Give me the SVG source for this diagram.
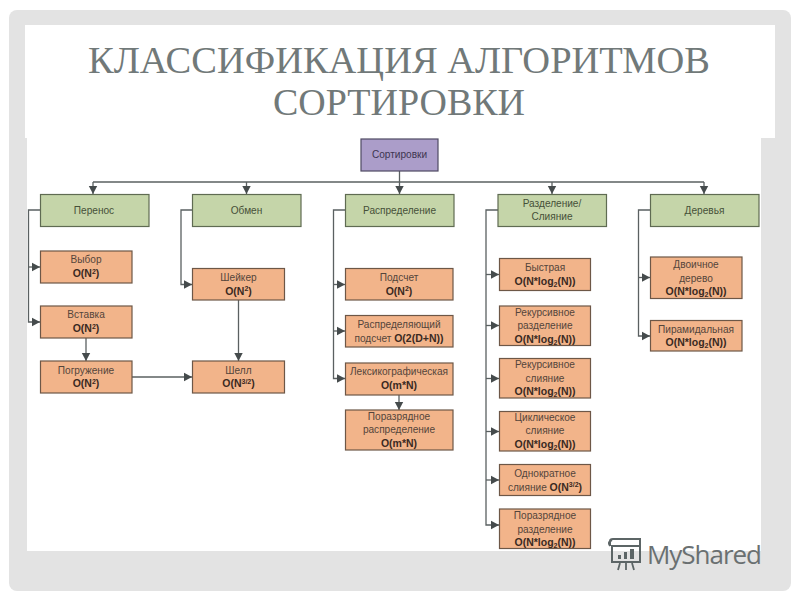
<svg xmlns="http://www.w3.org/2000/svg" width="800" height="600" viewBox="0 0 800 600">
<style>
.g{fill:#c5d5a9;stroke:#5f6b52;stroke-width:1.2}
.o{fill:#f2b48a;stroke:#6d5747;stroke-width:1.2}
.p{fill:#ab9dc9;stroke:#4f4a63;stroke-width:1.2}
.c{fill:none;stroke:#5a6061;stroke-width:1.3}
text{font-family:"Liberation Sans",Arial,sans-serif;font-size:10.100px;fill:#54453b;text-anchor:middle}
.b{font-weight:bold;font-size:10.500px;fill:#3a2a22}
.gt{fill:#465038}
.rt{fill:#3d3550}
.t{font-family:"Liberation Serif","Times New Roman",serif;font-size:38.500px;fill:#717979}
.s{font-size:7px}
</style>
<defs>
<marker id="a" markerUnits="userSpaceOnUse" markerWidth="9" markerHeight="10" refX="8" refY="5" orient="auto"><path d="M0 0.800L8 5L0 9.200Z" fill="#454b4c"/></marker>
</defs>
<rect width="800" height="600" fill="#fff"/>
<rect id="frame" x="9" y="10" width="782" height="581" rx="8" fill="#e3e3e3"/>
<rect x="27" y="138" width="734" height="413" fill="#fff"/>
<rect x="25" y="25" width="750" height="113" fill="#fff"/>
<g id="title">
<text class="t" x="399" y="72.500" textLength="622" lengthAdjust="spacingAndGlyphs">КЛАССИФИКАЦИЯ АЛГОРИТМОВ</text>
<text class="t" x="399" y="114.500" textLength="252" lengthAdjust="spacingAndGlyphs">СОРТИРОВКИ</text>
</g>
<g id="connectors">
<path class="c" d="M399.500 171V182"/>
<path class="c" d="M93 182H704"/>
<path class="c" d="M93 182V194" marker-end="url(#a)"/>
<path class="c" d="M246.500 182V194" marker-end="url(#a)"/>
<path class="c" d="M399.500 182V194" marker-end="url(#a)"/>
<path class="c" d="M552 182V194" marker-end="url(#a)"/>
<path class="c" d="M704 182V194" marker-end="url(#a)"/>
<path class="c" d="M40 210H28.500V322H40" marker-end="url(#a)"/>
<path class="c" d="M28.500 267H40" marker-end="url(#a)"/>
<path class="c" d="M86 338V361" marker-end="url(#a)"/>
<path class="c" d="M132 377H192" marker-end="url(#a)"/>
<path class="c" d="M192.500 210H181V284.500H192" marker-end="url(#a)"/>
<path class="c" d="M238.500 300V361" marker-end="url(#a)"/>
<path class="c" d="M345 210H333.500V378.500H345" marker-end="url(#a)"/>
<path class="c" d="M333.500 284.500H345" marker-end="url(#a)"/>
<path class="c" d="M333.500 331H345" marker-end="url(#a)"/>
<path class="c" d="M399 395V410" marker-end="url(#a)"/>
<path class="c" d="M498 210H486V525H499" marker-end="url(#a)"/>
<path class="c" d="M486 274.500H499" marker-end="url(#a)"/>
<path class="c" d="M486 325.500H499" marker-end="url(#a)"/>
<path class="c" d="M486 378.500H499" marker-end="url(#a)"/>
<path class="c" d="M486 431.500H499" marker-end="url(#a)"/>
<path class="c" d="M486 480H499" marker-end="url(#a)"/>
<path class="c" d="M650 210H638.500V336H650" marker-end="url(#a)"/>
<path class="c" d="M638.500 277.500H650" marker-end="url(#a)"/>
</g>
<g id="n-root"><rect class="p" x="361" y="139" width="77" height="32"/><text class="rt" x="399.500" y="158">Сортировки</text></g>
<g id="n-perenos"><rect class="g" x="40.500" y="194.500" width="108.500" height="32"/><text class="gt" x="94" y="214">Перенос</text></g>
<g id="n-obmen"><rect class="g" x="192.500" y="194.500" width="108.500" height="32"/><text class="gt" x="246.500" y="214">Обмен</text></g>
<g id="n-raspred"><rect class="g" x="345.500" y="194.500" width="108.500" height="32"/><text class="gt" x="399.500" y="214">Распределение</text></g>
<g id="n-razd"><rect class="g" x="498" y="194.500" width="108.500" height="32"/><text class="gt" x="552" y="207">Разделение/</text><text class="gt" x="552" y="220">Слияние</text></g>
<g id="n-derev"><rect class="g" x="650.500" y="194.500" width="108.500" height="32"/><text class="gt" x="704.500" y="214">Деревья</text></g>

<g id="n-vybor"><rect class="o" x="40.500" y="251" width="91.500" height="32"/><text x="86" y="263">Выбор</text><text class="b" x="86" y="277">O(N<tspan class="s" dy="-3.500">2</tspan><tspan dy="3.500">)</tspan></text></g>
<g id="n-vstavka"><rect class="o" x="40.500" y="306" width="91.500" height="32"/><text x="86" y="318">Вставка</text><text class="b" x="86" y="332">O(N<tspan class="s" dy="-3.500">2</tspan><tspan dy="3.500">)</tspan></text></g>
<g id="n-pogr"><rect class="o" x="40.500" y="361" width="91.500" height="32"/><text x="86" y="374">Погружение</text><text class="b" x="86" y="387">O(N<tspan class="s" dy="-3.500">2</tspan><tspan dy="3.500">)</tspan></text></g>
<g id="n-sheik"><rect class="o" x="192.500" y="268.500" width="92" height="31.500"/><text x="238.500" y="281">Шейкер</text><text class="b" x="238.500" y="294.500">O(N<tspan class="s" dy="-3.500">2</tspan><tspan dy="3.500">)</tspan></text></g>
<g id="n-shell"><rect class="o" x="192.500" y="361" width="92" height="32"/><text x="238.500" y="374">Шелл</text><text class="b" x="238.500" y="387">O(N<tspan class="s" dy="-3.500">3/2</tspan><tspan dy="3.500">)</tspan></text></g>

<g id="n-podschet"><rect class="o" x="345.500" y="268.500" width="107.500" height="31.500"/><text x="399" y="281">Подсчет</text><text class="b" x="399" y="294.500">O(N<tspan class="s" dy="-3.500">2</tspan><tspan dy="3.500">)</tspan></text></g>
<g id="n-raspodsch"><rect class="o" x="345.500" y="315.500" width="107.500" height="31.500"/><text x="399" y="328">Распределяющий</text><text x="399" y="342">подсчет <tspan class="b">O(2(D+N))</tspan></text></g>
<g id="n-leks"><rect class="o" x="345.500" y="363" width="107.500" height="32"/><text x="399" y="375">Лексикографическая</text><text class="b" x="399" y="388.500">O(m*N)</text></g>
<g id="n-porasp"><rect class="o" x="345.500" y="410" width="107.500" height="40"/><text x="399" y="420">Поразрядное</text><text x="399" y="433">распределение</text><text class="b" x="399" y="446.500">O(m*N)</text></g>

<g id="n-bystr"><rect class="o" x="499.500" y="258.500" width="91" height="32"/><text x="545" y="271">Быстрая</text><text class="b" x="545" y="285">O(N*log<tspan class="s" dy="2">2</tspan><tspan dy="-2">(N))</tspan></text></g>
<g id="n-rekraz"><rect class="o" x="499.500" y="306" width="91" height="39.500"/><text x="545" y="315.500">Рекурсивное</text><text x="545" y="329">разделение</text><text class="b" x="545" y="342.500">O(N*log<tspan class="s" dy="2">2</tspan><tspan dy="-2">(N))</tspan></text></g>
<g id="n-reksl"><rect class="o" x="499.500" y="358.500" width="91" height="39.500"/><text x="545" y="368">Рекурсивное</text><text x="545" y="381.500">слияние</text><text class="b" x="545" y="395">O(N*log<tspan class="s" dy="2">2</tspan><tspan dy="-2">(N))</tspan></text></g>
<g id="n-cikl"><rect class="o" x="499.500" y="411.500" width="91" height="39.500"/><text x="545" y="421">Циклическое</text><text x="545" y="434">слияние</text><text class="b" x="545" y="448">O(N*log<tspan class="s" dy="2">2</tspan><tspan dy="-2">(N))</tspan></text></g>
<g id="n-odnokr"><rect class="o" x="499.500" y="464.500" width="91" height="31"/><text x="545" y="477">Однократное</text><text x="545" y="490.500">слияние <tspan class="b">O(N<tspan class="s" dy="-3.500">3/2</tspan><tspan dy="3.500">)</tspan></tspan></text></g>
<g id="n-porraz"><rect class="o" x="499.500" y="509" width="91" height="39.500"/><text x="545" y="519">Поразрядное</text><text x="545" y="532.500">разделение</text><text class="b" x="545" y="545.500">O(N*log<tspan class="s" dy="2">2</tspan><tspan dy="-2">(N))</tspan></text></g>

<g id="n-dvoich"><rect class="o" x="650.500" y="257" width="91.500" height="41.500"/><text x="696" y="268">Двоичное</text><text x="696" y="281.500">дерево</text><text class="b" x="696" y="295">O(N*log<tspan class="s" dy="2">2</tspan><tspan dy="-2">(N))</tspan></text></g>
<g id="n-piram"><rect class="o" x="650.500" y="320.500" width="91.500" height="30.500"/><text x="696" y="333">Пирамидальная</text><text class="b" x="696" y="346">O(N*log<tspan class="s" dy="2">2</tspan><tspan dy="-2">(N))</tspan></text></g>

<g id="logo">
<path d="M610 546V541Q610 539 613 539H640V546M610 546Q607 542 612 540M612 546H640V562H612Z" fill="none" stroke="#5c6566" stroke-width="2"/>
<path d="M618 570L620 563M626 570V563M634 570L632 563" fill="none" stroke="#5c6566" stroke-width="1.800"/>
<path d="M618 555h3v4h-3zM624 552h3v7h-3zM630 549h4v10h-4z" fill="#5c6566"/>
<text x="647" y="564" style="font-family:'Open Sans',sans-serif;font-size:26px;fill:#6a7071;text-anchor:start" textLength="115">MyShared</text>
</g>
</svg>
